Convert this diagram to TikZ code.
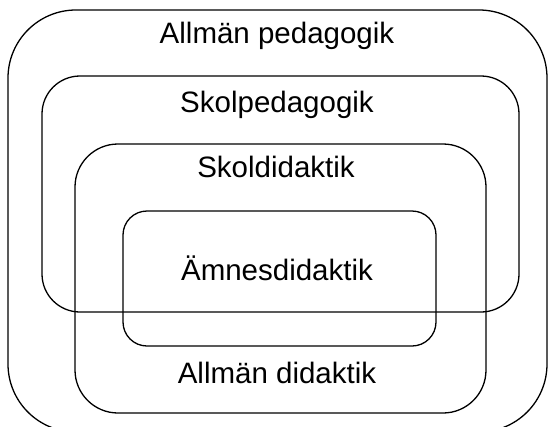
\documentclass[tikz,border=0pt]{standalone}
\usepackage{fontspec}
\setmainfont{Liberation Sans}
\begin{document}
\begin{tikzpicture}[x=1pt,y=-1pt,
  box/.style={draw=black,line width=1.3pt},
  lbl/.style={font=\fontsize{29.5}{32}\selectfont,inner sep=0pt,anchor=base}]
\useasboundingbox (0,0) rectangle (549,426);
\draw[box,rounded corners=68pt] (8,10) rectangle (547,432);
\draw[box,rounded corners=38pt] (42,76) rectangle (519,312);
\draw[box,rounded corners=43pt] (75,144) rectangle (486,413);
\draw[box,rounded corners=24pt] (123,211) rectangle (436,346);
\node[lbl] (ap) at (277,43) {Allmän pedagogik};
\node[lbl] (sp) at (277,112) {Skolpedagogik};
\node[lbl] (sd) at (276,177) {Skoldidaktik};
\node[lbl] (am) at (277,280) {Ämnesdidaktik};
\node[lbl] (ad) at (277,383) {Allmän didaktik};
\end{tikzpicture}
\end{document}
